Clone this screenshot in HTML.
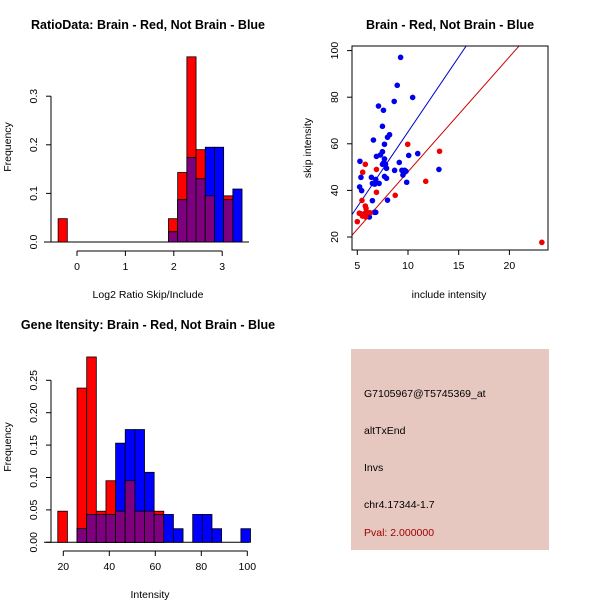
<!DOCTYPE html>
<html><head><meta charset="utf-8"><style>
html,body{margin:0;padding:0;background:#fff}
svg{display:block;font-family:"Liberation Sans",sans-serif}
.t{font-weight:bold;font-size:12.5px}
.l{font-size:10.5px}
</style></head><body>
<svg id="c" width="600" height="600" xmlns="http://www.w3.org/2000/svg">
<rect width="600" height="600" fill="#fff"/>
<text class="t" x="148" y="29" text-anchor="middle">RatioData: Brain - Red, Not Brain - Blue</text>
<text class="t" x="450" y="29" text-anchor="middle">Brain - Red, Not Brain - Blue</text>
<text class="t" x="148" y="329" text-anchor="middle">Gene Itensity: Brain - Red, Not Brain - Blue</text>
<text class="l" x="148" y="298" text-anchor="middle">Log2 Ratio Skip/Include</text>
<text class="l" x="11" y="147" text-anchor="middle" transform="rotate(-90 11 147)">Frequency</text>
<text class="l" x="449" y="298" text-anchor="middle">include intensity</text>
<text class="l" x="311" y="148" text-anchor="middle" transform="rotate(-90 311 148)">skip intensity</text>
<text class="l" x="150" y="598" text-anchor="middle">Intensity</text>
<text class="l" x="11" y="447" text-anchor="middle" transform="rotate(-90 11 447)">Frequency</text>
<g>
<rect x="351" y="349" width="198" height="201" fill="#E6C8C0"/>
<text class="l" x="364" y="397">G7105967@T5745369_at</text>
<text class="l" x="364" y="434">altTxEnd</text>
<text class="l" x="364" y="471">Invs</text>
<text class="l" x="364" y="508">chr4.17344-1.7</text>
<text class="l" x="364" y="536" fill="#A00000">Pval: 2.000000</text>
</g>
<g id="g1"></g>
<g id="g2"></g>
<g id="g3"></g>
</svg>
<script>
// ratio histogram data
const ratioStart = -0.39, ratioWidth = 0.19;
const ratioRed  = [0.048,0,0,0,0,0,0,0,0,0,0,0,0.048,0.143,0.381,0.19,0.095,0,0.095,0];
const ratioBlue = [0,0,0,0,0,0,0,0,0,0,0,0,0.021,0.087,0.174,0.13,0.195,0.195,0.087,0.109];
const ratioXTicks = [0,1,2,3];
const ratioYTicks = ["0.0","0.1","0.2","0.3"];
// intensity histogram data
const intStart = 17.6, intWidth = 4.19;
const intRed  = [0.048,0,0.238,0.286,0.048,0.095,0.048,0.095,0.048,0.048,0.048,0,0,0,0,0,0,0,0,0];
const intBlue = [0,0,0.021,0.043,0.043,0.043,0.153,0.174,0.174,0.108,0.043,0.043,0.021,0,0.043,0.043,0.021,0,0,0.021];
const intXTicks = [20,40,60,80,100];
const intYTicks = ["0.00","0.05","0.10","0.15","0.20","0.25"];
// scatter data
const blueX = [9.27,8.94,8.64,10.46,7.09,7.58,7.48,6.59,7.98,8.18,7.68,7.48,6.89,7.28,7.68,7.62,7.48,7.78,5.26,9.14,10.07,10.96,7.88,5.36,6.39,6.82,7.68,7.88,8.68,9.4,9.67,9.5,9.8,13.05,6.49,6.72,7.15,5.23,5.43,6.49,7.98,9.87,6.69,6.82,6.19];
const blueY = [97.1,85.1,78.2,79.9,76.2,74.4,67.5,61.6,62.8,63.9,59.8,56.6,54.6,55.2,53.5,52.0,51.2,51.2,52.5,52.0,55.0,55.8,49.5,45.6,45.6,44.7,46.0,45.2,48.6,48.6,48.6,46.6,48.2,49.0,43.0,42.7,43.0,41.5,39.9,35.6,35.8,43.5,30.6,30.6,28.6];
const redX = [9.97,13.11,5.79,5.53,6.89,11.75,6.89,5.46,8.74,5.79,5.86,5.99,5.76,5.33,5.2,5.5,6.26,5.83,5.0,23.2];
const redY = [59.8,56.8,51.2,47.8,49.0,43.9,39.2,35.7,37.9,33.3,32.3,30.6,30.2,30.0,30.2,29.0,30.4,28.6,26.6,17.7];
const blueLine = [6.43, 0.8];   // slope, intercept
const redLine = [4.93, -1.3];
const scXTicks = [5,10,15,20];
const scYTicks = [20,40,60,80,100];

const NS="http://www.w3.org/2000/svg";
function mk(parent,tag,attrs){const e=document.createElementNS(NS,tag);for(const k in attrs)e.setAttribute(k,attrs[k]);parent.appendChild(e);return e;}

function hist(g,start,width,red,blue,xs,ys,xticks,yticks,yStep,axY,nameP){
  mk(g,'line',{x1:44,y1:ys(0),x2:249,y2:ys(0),stroke:'#000'});
  for(let i=0;i<red.length;i++){
    const x0=xs(start+i*width),x1=xs(start+(i+1)*width);
    const parts=[[red[i],'#FF0000','red'],[blue[i],'#0000FF','blue'],[Math.min(red[i],blue[i]),'#7F007F','overlap']];
    for(const [v,c,n] of parts){ if(v<=0)continue;
      const r=mk(g,'rect',{x:x0,y:ys(v),width:x1-x0,height:ys(0)-ys(v),fill:c,stroke:'#000','stroke-width':0.8});
      
      
    }
  }
  const xa=mk(g,'g',{});
  
  
  mk(xa,'line',{x1:xs(xticks[0]),y1:axY,x2:xs(xticks[xticks.length-1]),y2:axY,stroke:'#000'});
  xticks.forEach(t=>{mk(xa,'line',{x1:xs(t),y1:axY,x2:xs(t),y2:axY+5,stroke:'#000'});
    const tx=mk(xa,'text',{x:xs(t),y:axY+19,'text-anchor':'middle','font-size':'10.5px'});tx.textContent=t;});
  const ya=mk(g,'g',{});
  
  
  mk(ya,'line',{x1:51,y1:ys(0),x2:51,y2:ys((yticks.length-1)*yStep),stroke:'#000'});
  yticks.forEach((t,i)=>{const y=ys(i*yStep);mk(ya,'line',{x1:46,y1:y,x2:51,y2:y,stroke:'#000'});
    const tx=mk(ya,'text',{x:37,y:y,'text-anchor':'middle','font-size':'10.5px',transform:`rotate(-90 37 ${y})`});tx.textContent=t;});
}
// plot1
hist(document.getElementById('g1'),ratioStart,ratioWidth,ratioRed,ratioBlue,
  v=>77+v*48.4, v=>242-v*486, ratioXTicks, ratioYTicks, 0.1, 251,'ratio');
// plot3
hist(document.getElementById('g3'),intStart,intWidth,intRed,intBlue,
  v=>63.3+(v-20)*2.3, v=>542.3-v*648, intXTicks, intYTicks, 0.05, 551,'intensity');

// scatter
(function(){
  const g=document.getElementById('g2');
  const xs=v=>357.3+(v-5)*10.14, ys=v=>237-(v-20)*2.33;
  const L=352,R=548,T=46,B=250;
  const cp=mk(g,'clipPath',{id:'cp'});mk(cp,'rect',{x:L,y:T,width:R-L,height:B-T});
  [[blueLine,'#0000CC','blue-fit-line'],[redLine,'#CC0000','red-fit-line']].forEach(([p,c,n])=>{
    const l=mk(g,'line',{x1:xs(0),y1:ys(p[1]),x2:xs(30),y2:ys(p[0]*30+p[1]),stroke:c,'stroke-width':1,'clip-path':'url(#cp)'});
    
    
  });
  blueX.forEach((x,i)=>{const c=mk(g,'circle',{cx:xs(x),cy:ys(blueY[i]),r:2.8,fill:'#0000EE'});
    
    });
  redX.forEach((x,i)=>{const c=mk(g,'circle',{cx:xs(x),cy:ys(redY[i]),r:2.8,fill:'#EE0000'});
    
    });
  mk(g,'rect',{x:L,y:T,width:R-L,height:B-T,fill:'none',stroke:'#000'});
  scXTicks.forEach(t=>{mk(g,'line',{x1:xs(t),y1:B,x2:xs(t),y2:B+5,stroke:'#000'});
    const tx=mk(g,'text',{x:xs(t),y:B+19,'text-anchor':'middle','font-size':'10.5px'});tx.textContent=t;});
  scYTicks.forEach(t=>{const y=ys(t);mk(g,'line',{x1:L-5,y1:y,x2:L,y2:y,stroke:'#000'});
    const tx=mk(g,'text',{x:338,y:y,'text-anchor':'middle','font-size':'10.5px',transform:`rotate(-90 338 ${y})`});tx.textContent=t;});
})();
</script>
</body></html>
